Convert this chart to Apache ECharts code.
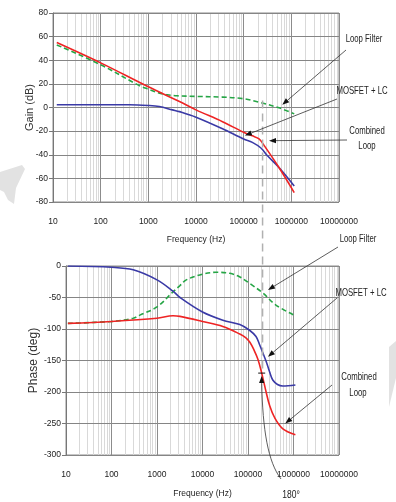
<!DOCTYPE html>
<html><head><meta charset="utf-8">
<script src="https://cdn.jsdelivr.net/npm/echarts@6/dist/echarts.min.js"></script>
<style>html,body{margin:0;padding:0;background:#fff}#c{width:396px;height:502px}</style>
</head><body><div id="c"></div>
<script>
// ---------- data ----------
const xTickLabels = ['10','100','1000','10000','100000','1000000','10000000'];

// Gain (dB) chart
const gainLoopFilterF  = [12, 100, 650, 1000, 1600, 2500, 4000, 10000, 36000, 100000, 210000, 550000, 1150000];
const gainLoopFilterDb = [53, 36.2, 18.5, 15.5, 12.6, 10.8, 9.9, 9.4, 8.8, 7.4, 4.5, -0.3, -5.4];
const gainMosfetF  = [12, 400, 1000, 1700, 3200, 4500, 10000, 36000, 100000, 152000, 230000, 316000, 550000, 1150000];
const gainMosfetDb = [2.3, 2.3, 1.7, 0.8, -2, -3.5, -8.2, -18, -26.7, -29.5, -34.3, -40.9, -50.8, -66.4];
const gainCombinedF  = [12, 100, 1000, 4500, 10000, 36000, 100000, 152000, 210000, 270000, 550000, 1150000];
const gainCombinedDb = [55, 37.8, 17.5, 5, -2, -12, -21, -24, -26.6, -32.3, -50.8, -72];

// Phase (deg) chart
const phaseLoopFilterF   = [11, 100, 300, 420, 1000, 2250, 3200, 4400, 10000, 20000, 40000, 65000, 108000, 213000, 410000, 1100000];
const phaseLoopFilterDeg = [-91, -88, -83, -78, -65, -41, -31, -22, -13, -10, -11.6, -17, -27.5, -43, -62, -79];
const phaseMosfetF   = [11, 100, 300, 1000, 2250, 3200, 10000, 28000, 66000, 108000, 150000, 180000, 252000, 298000, 350000, 445000, 580000, 1100000];
const phaseMosfetDeg = [0, -2, -6, -22, -40, -50, -73, -86, -93, -102, -112, -125, -152, -168, -181, -188, -190.5, -189];
const phaseCombinedF   = [11, 100, 1000, 2250, 3200, 10000, 28000, 66000, 90000, 110000, 135000, 165000, 200000, 250000, 300000, 380000, 575000, 1100000];
const phaseCombinedDeg = [-91, -88, -83, -79, -80, -88, -96, -108, -114, -121, -133, -148, -170, -200, -222, -240, -258, -268];

// annotation targets (data coordinates)
const gainCalloutTargets  = [[645000, 2.3], [106000, -23.8], [340000, -28.1]];
const phaseCalloutTargets = [[275000, -38], [275000, -144], [660000, -250]];
const crossoverFreq = 209000;
const marker180 = [200000, -170];

// ---------- chart ----------
const FONT = "'Liberation Sans Narrow','Arial Narrow','Liberation Sans',Arial,sans-serif";
const RED = '#ee2424', BLUE = '#3a3aa6', GREEN = '#25a545';
const chart = echarts.init(document.getElementById('c'));

function pairs(fs, vs){ return fs.map((f, i) => [f, vs[i]]); }
const minorX = [];
for (let d = 10; d < 1e7; d *= 10) for (let m = 2; m <= 9; m++) minorX.push({xAxis: d * m});

function xAx(g, gap){
  return {
    type:'log', logBase:10, min:10, max:1e7, gridIndex:g, z:1,
    axisLine:{show:true, lineStyle:{color:'#888'}},
    axisTick:{show:false},
    axisLabel:{margin:15, fontFamily:FONT, fontSize:8.5, color:'#222', showMinLabel:true, showMaxLabel:true, hideOverlap:false,
      formatter: v => xTickLabels[Math.round(Math.log10(v)) - 1]},
    splitLine:{show:true, lineStyle:{color:'#8c8c8c', width:1}},
    name:'Frequency (Hz)', nameLocation:'middle', nameGap:gap, nameMoveOverlap:false,
    nameTextStyle:{fontFamily:FONT, fontSize:8.5, color:'#222'}
  };
}
function yAx(g, min, max, interval, name, gap, fs){
  return {
    type:'value', gridIndex:g, min:min, max:max, interval:interval, z:1,
    axisLine:{show:true, lineStyle:{color:'#777'}},
    axisTick:{show:true, length:4, lineStyle:{color:'#777'}},
    axisLabel:{margin:5, fontFamily:FONT, fontSize:8.5, color:'#222'},
    splitLine:{show:true, lineStyle:{color:'#858585', width:1}},
    name:name, nameLocation:'middle', nameGap:gap, nameMoveOverlap:false,
    nameTextStyle:{fontFamily:"'Liberation Sans',Arial,sans-serif", fontSize:fs, color:'#333'}
  };
}
function minorSeries(g){
  return {type:'line', xAxisIndex:g, yAxisIndex:g, data:[], z:0, silent:true, animation:false,
    markLine:{z:0, silent:true, symbol:['none','none'], label:{show:false}, animation:false,
      lineStyle:{color:'#d9d9d9', width:1, type:'solid'}, emphasis:{disabled:true}, data:minorX}};
}
function lineSeries(g, name, fs, vs, color, dashed){
  return {type:'line', name:name, xAxisIndex:g, yAxisIndex:g, data:pairs(fs, vs), showSymbol:false,
    smooth:0.35, z:3, animation:false,
    lineStyle:{color:color, width:1.6, type: dashed ? [5,3] : 'solid'}};
}

chart.setOption({
  animation:false,
  grid:[
    {left:53, top:13, width:286, height:189, show:true, borderColor:'#8c8c8c', borderWidth:1},
    {left:66, top:266, width:273, height:189, show:true, borderColor:'#8c8c8c', borderWidth:1}
  ],
  xAxis:[xAx(0, 33), xAx(1, 34)],
  yAxis:[yAx(0, -80, 80, 20, 'Gain (dB)', 18, 11), yAx(1, -300, 0, 50, 'Phase (deg)', 26, 12)],
  series:[
    minorSeries(0), minorSeries(1),
    lineSeries(0, 'Loop Filter', gainLoopFilterF, gainLoopFilterDb, GREEN, true),
    lineSeries(0, 'MOSFET + LC', gainMosfetF, gainMosfetDb, BLUE, false),
    lineSeries(0, 'Combined Loop', gainCombinedF, gainCombinedDb, RED, false),
    lineSeries(1, 'Loop Filter', phaseLoopFilterF, phaseLoopFilterDeg, GREEN, true),
    lineSeries(1, 'MOSFET + LC', phaseMosfetF, phaseMosfetDeg, BLUE, false),
    lineSeries(1, 'Combined Loop', phaseCombinedF, phaseCombinedDeg, RED, false)
  ]
});

// ---------- annotations ----------
function P(g, pt){ return chart.convertToPixel({gridIndex:g}, pt); }
function arrow(tail, head){
  const dx = head[0]-tail[0], dy = head[1]-tail[1], L = Math.hypot(dx, dy), ux = dx/L, uy = dy/L;
  const bx = head[0]-ux*7, by = head[1]-uy*7, nx = -uy*2.6, ny = ux*2.6;
  return [
    {type:'line', silent:true, z:10, shape:{x1:tail[0], y1:tail[1], x2:bx, y2:by}, style:{stroke:'#333', lineWidth:0.8}},
    {type:'polygon', silent:true, z:10, shape:{points:[head, [bx+nx, by+ny], [bx-nx, by-ny]]}, style:{fill:'#111'}}
  ];
}
function label(text, x, y, size){
  return {type:'text', silent:true, z:10, x:x, y:y, scaleX:0.74,
    style:{text:text, font:(size || 10.5) + 'px ' + FONT, fill:'#222', align:'center', verticalAlign:'middle', textAlign:'center', textVerticalAlign:'middle'}};
}
const els = [];
// watermark fragments
els.push({type:'polygon', silent:true, z:-1, shape:{points:[[0,172],[22,165],[25,169],[16,188],[14,204],[8,200],[4,192],[0,190]]}, style:{fill:'#e2e2e2'}});
els.push({type:'polygon', silent:true, z:-1, shape:{points:[[389,347],[396,341],[396,378],[389,407]]}, style:{fill:'#e2e2e2'}});

// crossover dashed line
const cx = P(1, [crossoverFreq, 0])[0];
const yTopDash = P(0, [crossoverFreq, 6])[1];
const yBotDash = P(1, [crossoverFreq, -170])[1];
els.push({type:'line', silent:true, z:9, shape:{x1:cx, y1:yTopDash, x2:cx, y2:yBotDash}, style:{stroke:'#b0b0b0', lineWidth:1.5, lineDash:[8,5]}});

// gain callouts
const gTails = [[346,50],[337,99],[347,140]];
gainCalloutTargets.forEach((t, i) => els.push(...arrow(gTails[i], P(0, t))));
els.push(label('Loop Filter', 364, 39));
els.push(label('MOSFET + LC', 362, 91));
els.push(label('Combined', 367, 131));
els.push(label('Loop', 367, 146));

// phase callouts
const pTails = [[338,247],[337,298],[332,385]];
phaseCalloutTargets.forEach((t, i) => els.push(...arrow(pTails[i], P(1, t))));
els.push(label('Loop Filter', 358, 239));
els.push(label('MOSFET + LC', 361, 293));
els.push(label('Combined', 359, 377));
els.push(label('Loop', 358, 393));

// 180 degree marker
const m = P(1, marker180);
els.push({type:'line', silent:true, z:10, shape:{x1:m[0]-3.5, y1:m[1], x2:m[0]+3.5, y2:m[1]}, style:{stroke:'#111', lineWidth:1}});
const tip = [m[0], m[1]+3];
els.push({type:'bezierCurve', silent:true, z:10, shape:{x1:281, y1:479, cpx1:268, cpy1:462, cpx2:tip[0]+1, cpy2:430, x2:tip[0], y2:tip[1]+7}, style:{stroke:'#333', lineWidth:0.8, fill:null}});
els.push({type:'polygon', silent:true, z:10, shape:{points:[tip, [tip[0]-2.6, tip[1]+7], [tip[0]+2.6, tip[1]+7]]}, style:{fill:'#111'}});
els.push(label('180°', 291, 495, 11.5));

chart.setOption({graphic:{elements:els}});
</script>
</body></html>
